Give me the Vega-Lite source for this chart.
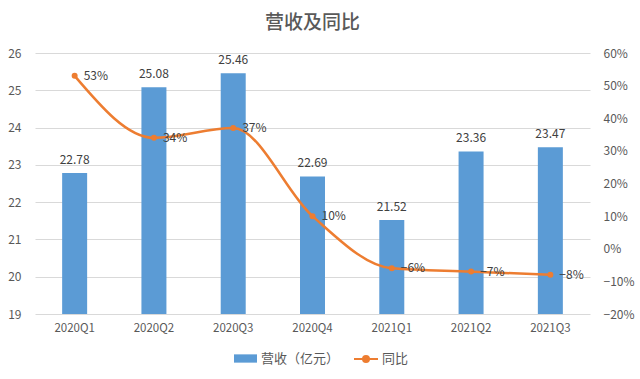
{
  "$schema": "https://vega.github.io/schema/vega-lite/v6.json",
  "width": 555,
  "height": 261,
  "autosize": {"type": "none"},
  "padding": {"left": 35, "top": 53, "right": 50, "bottom": 65},
  "background": "white",
  "config": {
    "view": {"stroke": null},
    "font": "Noto Sans CJK SC",
    "axis": {"labelColor": "#595959", "labelFontSize": 12, "domain": false, "ticks": false, "title": null}
  },
  "title": {"text": "营收及同比", "fontSize": 19, "color": "#595959", "fontWeight": 500, "offset": 14, "anchor": "middle"},
  "data": {
    "values": [
      {"q": "2020Q1", "rev": 22.78, "yoy": 0.53},
      {"q": "2020Q2", "rev": 25.08, "yoy": 0.34},
      {"q": "2020Q3", "rev": 25.46, "yoy": 0.37},
      {"q": "2020Q4", "rev": 22.69, "yoy": 0.10},
      {"q": "2021Q1", "rev": 21.52, "yoy": -0.06},
      {"q": "2021Q2", "rev": 23.36, "yoy": -0.07},
      {"q": "2021Q3", "rev": 23.47, "yoy": -0.08}
    ]
  },
  "encoding": {
    "x": {"field": "q", "type": "ordinal", "sort": null,
      "scale": {"paddingInner": 0, "paddingOuter": 0},
      "axis": {"labelAngle": 0, "labelPadding": 8, "labelFontSize": 11.5}}
  },
  "layer": [
    {
      "encoding": {
        "y": {"field": "rev", "type": "quantitative",
          "scale": {"domain": [19, 26], "zero": false, "nice": false},
          "axis": {"orient": "left", "values": [19, 20, 21, 22, 23, 24, 25, 26], "grid": true, "gridColor": "#D9D9D9", "labelPadding": 14}}
      },
      "layer": [
        {
          "mark": {"type": "bar", "size": 25},
          "encoding": {
            "y2": {"datum": 19},
            "color": {"datum": "营收（亿元）", "type": "nominal", "scale": {"range": ["#5B9BD5"]},
              "legend": {"orient": "none", "legendX": 198, "legendY": 293, "title": null,
                "symbolType": "M-1,-0.36H1V0.36H-1Z", "symbolSize": 529, "labelFontSize": 13, "labelColor": "#595959", "labelOffset": 3}}
          }
        },
        {
          "mark": {"type": "text", "baseline": "bottom", "dy": -6, "fontSize": 12, "color": "#404040"},
          "encoding": {"text": {"field": "rev", "type": "quantitative", "format": ".2f"}}
        }
      ]
    },
    {
      "encoding": {
        "y": {"field": "yoy", "type": "quantitative",
          "scale": {"domain": [-0.2, 0.6], "zero": false, "nice": false},
          "axis": {"orient": "right", "values": [-0.2, -0.1, 0, 0.1, 0.2, 0.3, 0.4, 0.5, 0.6], "format": ".0%", "grid": false, "labelAlign": "left", "labelPadding": 13}}
      },
      "layer": [
        {
          "mark": {"type": "line", "interpolate": "monotone", "strokeWidth": 2.5, "point": {"filled": true, "size": 36}},
          "encoding": {
            "color": {"datum": "同比", "type": "nominal", "scale": {"range": ["#ED7D31"]},
              "legend": {"orient": "none", "legendX": 318, "legendY": 293, "title": null,
                "symbolType": "M-1,0H-0.25M0.25,0H1M0.25,0A0.25,0.25,0,1,1,-0.25,0A0.25,0.25,0,1,1,0.25,0",
                "symbolSize": 576, "symbolStrokeWidth": 2, "symbolFillColor": "#ED7D31", "symbolStrokeColor": "#ED7D31",
                "labelFontSize": 13, "labelColor": "#595959", "labelOffset": 3}}
          }
        },
        {
          "mark": {"type": "text", "align": "left", "baseline": "middle", "dx": 9, "fontSize": 12, "color": "#404040"},
          "encoding": {"text": {"field": "yoy", "type": "quantitative", "format": ".0%"}}
        }
      ]
    }
  ],
  "resolve": {"scale": {"y": "independent", "color": "independent"}}
}
